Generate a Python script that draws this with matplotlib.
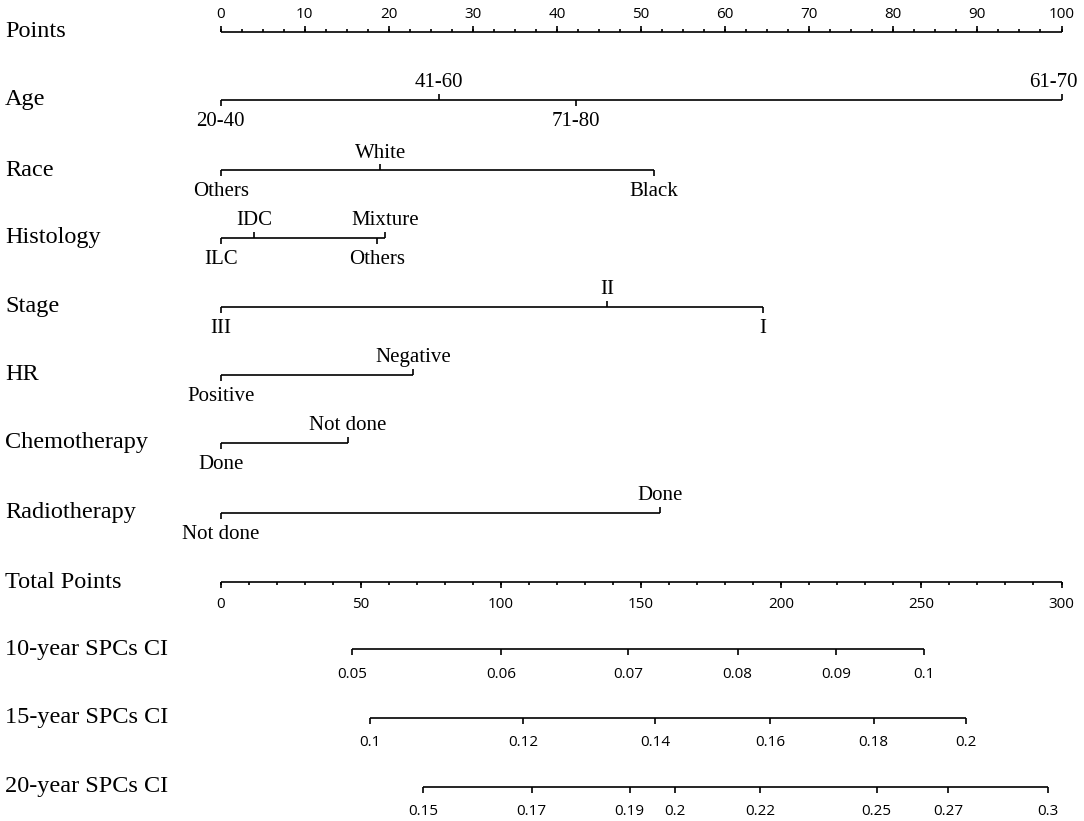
import matplotlib
matplotlib.use("Agg")
import matplotlib.pyplot as plt
import matplotlib.transforms as mtransforms
import numpy as np

# ---------------- data ----------------
points_ticks = np.arange(0, 101, 10)
points_minor = np.arange(0, 100.01, 2.5)

row_names = ["Points", "Age", "Race", "Histology", "Stage", "HR",
             "Chemotherapy", "Radiotherapy", "Total Points",
             "10-year SPCs CI", "15-year SPCs CI", "20-year SPCs CI"]

age_levels = ["20-40", "41-60", "71-80", "61-70"]
age_points = [0, 26.0, 42.3, 100]
race_levels = ["Others", "White", "Black"]
race_points = [0, 19.0, 51.5]
hist_levels = ["ILC", "IDC", "Others", "Mixture"]
hist_points = [0, 4.0, 18.6, 19.6]
stage_levels = ["III", "II", "I"]
stage_points = [0, 46.0, 64.5]
hr_levels = ["Positive", "Negative"]
hr_points = [0, 22.9]
chemo_levels = ["Done", "Not done"]
chemo_points = [0, 15.1]
radio_levels = ["Not done", "Done"]
radio_points = [0, 52.3]

total_ticks = np.arange(0, 301, 50)
total_minor = np.arange(0, 301, 10)

ci10_labels = ["0.05", "0.06", "0.07", "0.08", "0.09", "0.1"]
ci10_total = [46.9, 100.0, 145.3, 184.4, 219.5, 250.8]
ci15_labels = ["0.1", "0.12", "0.14", "0.16", "0.18", "0.2"]
ci15_total = [53.1, 108.0, 154.9, 196.1, 233.0, 265.8]
ci20_labels = ["0.15", "0.17", "0.19", "0.2", "0.22", "0.25", "0.27", "0.3"]
ci20_total = [72.3, 110.9, 145.9, 162.1, 192.6, 234.0, 259.6, 295.1]

# ---------------- layout / style ----------------
W, H = 1084, 821
X0_PX, PX_PER_PT = 220.7, 8.408
row_y = [32, 100, 170.5, 238.3, 307, 375.3, 443.3, 512.7, 582.5, 649.5, 718, 787]

SERIF = ["Liberation Serif", "DejaVu Serif"]
SANS = ["Open Sans", "DejaVu Sans"]
ROW_FS = 17.5
CAT_FS = 15
TICK_FS = 11
LW = 1.2
MAJ, MIN_, CAT_T = 6, 2.6, 6

fig = plt.figure(figsize=(W / 100, H / 100), dpi=100)
ax = fig.add_axes([0, 0, 1, 1])
ax.set_xlim(-X0_PX / PX_PER_PT, (W - X0_PX) / PX_PER_PT)
ax.set_ylim(H, 0)
ax.axis("off")

label_x = (5 - X0_PX) / PX_PER_PT

# row labels
for name, y in zip(row_names, row_y):
    ax.text(label_x, y + 5, name, family=SERIF, fontsize=ROW_FS,
            ha="left", va="baseline", color="black")

# Points axis (ticks up, labels above)
yP = row_y[0]
ax.plot([0, 100], [yP, yP], color="black", lw=LW, solid_capstyle="butt")
ax.vlines(points_minor, yP - MIN_, yP, color="black", lw=LW)
ax.vlines(points_ticks, yP - MAJ, yP, color="black", lw=LW)
for t in points_ticks:
    ax.text(t, yP - 13.5, f"{t:g}", family=SANS, fontsize=TICK_FS,
            ha="center", va="baseline")

# categorical predictors
def cat_axis(levels, pts, y):
    order = np.argsort(pts, kind="stable")
    ax.plot([min(pts), max(pts)], [y, y], color="black", lw=LW,
            solid_capstyle="butt")
    for i, k in enumerate(order):
        p, lev = pts[k], levels[k]
        below = (i % 2 == 0)
        ax.plot([p, p], [y, y + CAT_T if below else y - CAT_T],
                color="black", lw=LW, solid_capstyle="butt")
        tr = ax.transData
        if p >= 99.9:
            tr = mtransforms.offset_copy(ax.transData, fig=fig, x=-8, y=0,
                                         units="dots")
        ax.text(p, y + 26 if below else y - 13, lev, family=SERIF,
                fontsize=CAT_FS, ha="center", va="baseline", transform=tr)

cat_axis(age_levels, age_points, row_y[1])
cat_axis(race_levels, race_points, row_y[2])
cat_axis(hist_levels, hist_points, row_y[3])
cat_axis(stage_levels, stage_points, row_y[4])
cat_axis(hr_levels, hr_points, row_y[5])
cat_axis(chemo_levels, chemo_points, row_y[6])
cat_axis(radio_levels, radio_points, row_y[7])

# Total points axis (ticks down, labels below); 300 total points = 100 points
def tp(v):
    return np.asarray(v, dtype=float) * 100.0 / 300.0

yT = row_y[8]
ax.plot(tp([0, 300]), [yT, yT], color="black", lw=LW, solid_capstyle="butt")
ax.vlines(tp(total_minor), yT, yT + MIN_, color="black", lw=LW)
ax.vlines(tp(total_ticks), yT, yT + MAJ, color="black", lw=LW)
for t in total_ticks:
    ax.text(tp(t), yT + 25, f"{t:g}", family=SANS, fontsize=TICK_FS,
            ha="center", va="baseline")

# probability axes
def prob_axis(labels, totals, y):
    xs = tp(totals)
    ax.plot([xs.min(), xs.max()], [y, y], color="black", lw=LW,
            solid_capstyle="butt")
    ax.vlines(xs, y, y + MAJ, color="black", lw=LW)
    for x, lab in zip(xs, labels):
        ax.text(x, y + 28, lab, family=SANS, fontsize=TICK_FS,
                ha="center", va="baseline")

prob_axis(ci10_labels, ci10_total, row_y[9])
prob_axis(ci15_labels, ci15_total, row_y[10])
prob_axis(ci20_labels, ci20_total, row_y[11])

fig.savefig("out.png", dpi=100, facecolor="white")
